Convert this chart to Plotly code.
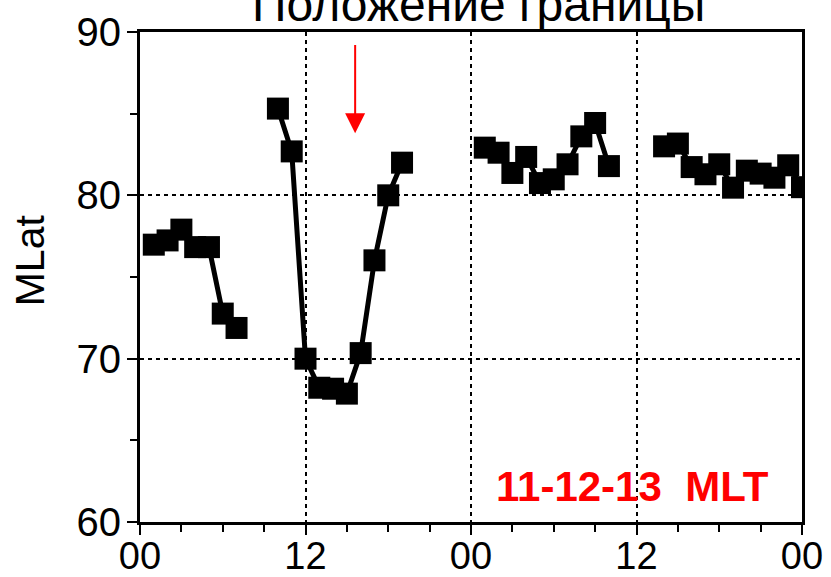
import plotly.graph_objects as go

# Hourly boundary latitude over two days (MLT hours from 00 of day 1); None = no data
hours = [1, 2, 3, 4, 5, 6, 7, 8, 9,
         10, 11, 12, 13, 14, 15, 16, 17, 18, 19,
         20, 21, 22, 23, 24,
         25, 26, 27, 28, 29, 30, 31, 32, 33, 34,
         35, 36, 37,
         38, 39, 40, 41, 42, 43, 44, 45, 46, 47, 48]
mlat = [76.98, 77.24, 77.90, 76.83, 76.83, 72.76, 71.88, None, None,
        85.31, 82.69, 70.00, 68.22, 68.16, 67.86, 70.34, 76.02, 80.00, 82.00,
        None, None, None, None, None,
        82.92, 82.61, 81.37, 82.35, 80.75, 80.98, 81.90, 83.61, 84.43, 81.79,
        None, None, None,
        83.00, 83.17, 81.73, 81.29, 81.90, 80.47, 81.51, 81.33, 81.08, 81.84, 80.50]

x_tick_vals = [0, 12, 24, 36, 48]
x_tick_text = ["00", "12", "00", "12", "00"]
y_tick_vals = [60, 70, 80, 90]

title_text = "Положение границы"
y_title = "MLat"
sector_label = "11-12-13\u00a0\u00a0MLT"
arrow_hour = 15.6
arrow_tail, arrow_tip = 89.3, 83.8

FONT = "Liberation Sans, Arial, sans-serif"

fig = go.Figure()
fig.add_trace(go.Scatter(
    x=hours, y=mlat, mode="lines+markers",
    line=dict(color="black", width=5),
    marker=dict(symbol="square", size=22, color="black", line=dict(width=0)),
    connectgaps=False, showlegend=False,
))

axis_common = dict(
    showline=True, linecolor="black", linewidth=3, mirror=True,
    ticks="outside", ticklen=10, tickwidth=2, tickcolor="black",
    showgrid=True, gridcolor="black", gridwidth=2, griddash="4px,4px",
    zeroline=False, automargin=False,
)

fig.update_xaxes(
    range=[0, 48], tickmode="array", tickvals=x_tick_vals, ticktext=x_tick_text,
    ticklabelstandoff=-12,
    tickfont=dict(family=FONT, size=38, color="black"),
    minor=dict(dtick=3, tick0=0, ticks="outside", ticklen=7, tickwidth=2,
               tickcolor="black", showgrid=False),
    **axis_common,
)
fig.update_yaxes(
    range=[60, 90], tickmode="array", tickvals=y_tick_vals,
    ticklabelstandoff=-2,
    tickfont=dict(family=FONT, size=40, color="black"),
    minor=dict(dtick=5, tick0=60, ticks="outside", ticklen=7, tickwidth=2,
               tickcolor="black", showgrid=False),
    **axis_common,
)

fig.add_annotation(
    text=title_text, xref="paper", yref="paper", x=0.511, y=1.0,
    xanchor="center", yanchor="bottom", yshift=-1, showarrow=False,
    font=dict(family=FONT, size=48, color="black"),
)
fig.add_annotation(
    text=y_title, xref="paper", yref="paper", x=-0.167, y=0.535,
    xanchor="center", yanchor="middle", textangle=-90, showarrow=False,
    font=dict(family=FONT, size=41, color="black"),
)
fig.add_annotation(
    text="<b>" + sector_label + "</b>", xref="x", yref="y", x=35.7, y=62.2,
    xanchor="center", yanchor="middle", showarrow=False,
    font=dict(family=FONT, size=42, color="#ff0000"),
)
fig.add_annotation(
    text="", xref="x", yref="y", x=arrow_hour, y=arrow_tip,
    axref="x", ayref="y", ax=arrow_hour, ay=arrow_tail,
    showarrow=True, arrowhead=2, arrowsize=2, arrowwidth=2, arrowcolor="#ff0000",
)

fig.update_layout(
    width=831, height=577,
    margin=dict(l=140, r=29, t=32, b=55),
    paper_bgcolor="white", plot_bgcolor="white",
    font=dict(family=FONT, color="black"),
)

fig.write_html("out.html")
